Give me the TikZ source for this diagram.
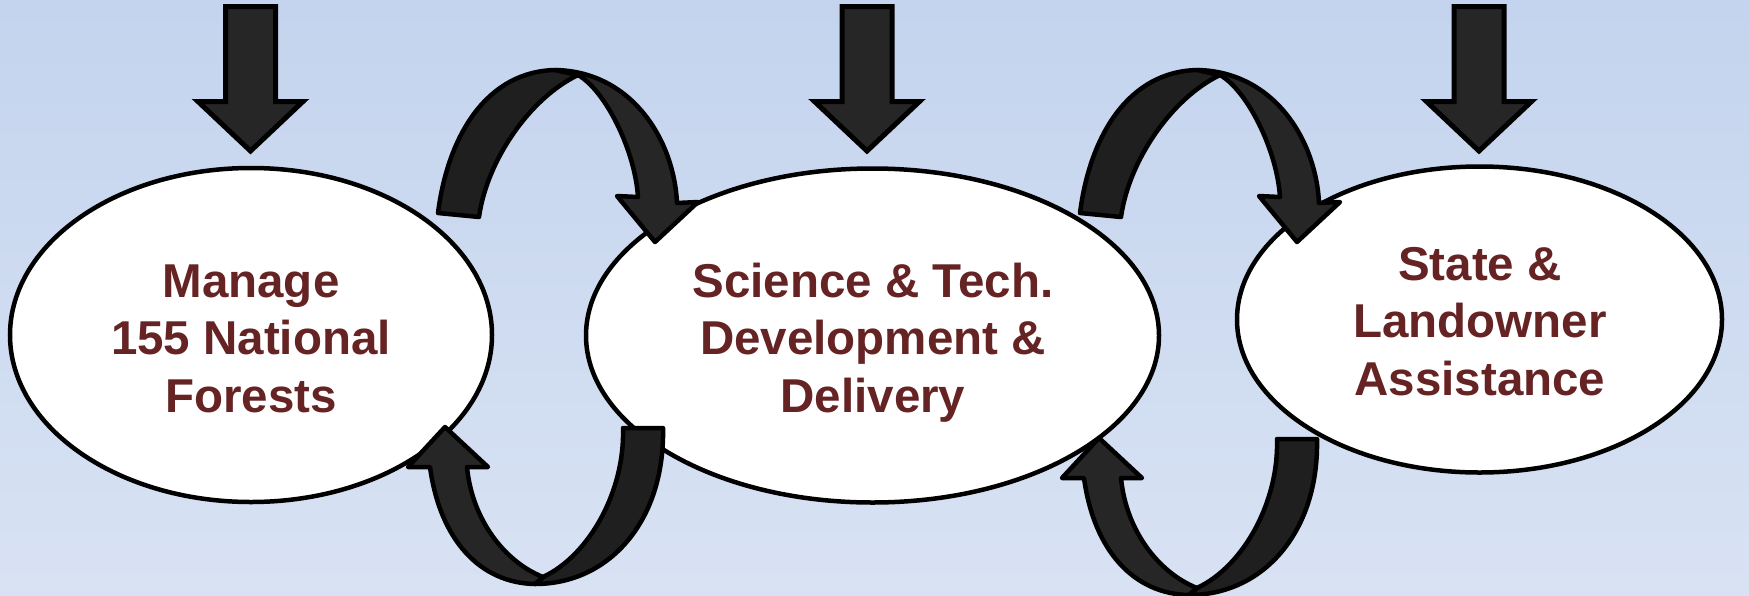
\documentclass[tikz,border=0pt]{standalone}
\usepackage{fontspec}
\setmainfont{Liberation Sans}
\usetikzlibrary{shapes.geometric}
\definecolor{bgtop}{RGB}{196,212,238}
\definecolor{bgbot}{RGB}{216,226,243}
\definecolor{txtred}{RGB}{102,35,35}
\definecolor{darkA}{RGB}{31,31,31}
\definecolor{darkB}{RGB}{38,38,38}
\begin{document}
\begin{tikzpicture}[x=1pt,y=-1pt,
  blob/.style={ellipse, draw=black, line width=4.5pt, fill=white, inner sep=0pt},
  lbl/.style={font=\bfseries\fontsize{47.5}{57.5}\selectfont, text=txtred, align=center, inner sep=0pt},
  downarrow/.style={draw=black, line width=5pt, fill=darkB, line join=miter},
  bandA/.style={draw=black, line width=4.5pt, fill=darkA, line join=round},
  bandB/.style={draw=black, line width=4.5pt, fill=darkB, line join=round}]
\useasboundingbox (0,0) rectangle (1749,595);
\shade[top color=bgtop, bottom color=bgbot] (0,0) rectangle (1749,595);

% ellipses
\node[blob, minimum width=482pt, minimum height=334pt] (e1) at (251,335) {};
\node[blob, minimum width=573pt, minimum height=334pt] (e2) at (872.5,335.5) {};
\node[blob, minimum width=485pt, minimum height=306pt] (e3) at (1479.5,319.5) {};

% labels
\node[lbl] (t1) at (251,342) {\rule{0pt}{36pt}Manage\\155 National\\Forests\rule[-11pt]{0pt}{11pt}};
\node[lbl] (t2) at (873,342) {\rule{0pt}{36pt}Science \& Tech.\\Development \&\\Delivery\rule[-11pt]{0pt}{11pt}};
\node[lbl] (t3) at (1480,325) {\rule{0pt}{36pt}State \&\\Landowner\\Assistance\rule[-11pt]{0pt}{11pt}};

% down arrows
\foreach \cx in {250.5,867,1479}{
  \draw[downarrow] (\cx-25,6.5) -- (\cx+25,6.5) -- (\cx+25,101.5) -- (\cx+52.5,101.5)
    -- (\cx,151) -- (\cx-52.5,101.5) -- (\cx-25,101.5) -- cycle;
}

% top curved arrows
\foreach \dx in {0,642}{
\begin{scope}[shift={(\dx,0)}]
  \draw[bandA] (438,213) .. controls (448,135) and (487,71) .. (556,70)
    -- (578,75) .. controls (530,98) and (487,160) .. (479,217) -- cycle;
  \draw[bandB] (556,70) .. controls (632,72) and (674,140) .. (677,203)
    -- (698,202) -- (655,242) -- (617,196) -- (638,197)
    .. controls (635,150) and (605,90) .. (578,75) -- cycle;
\end{scope}
}

% bottom curved arrows
\foreach \dx/\dy in {0/0,654/11}{
\begin{scope}[shift={(\dx,\dy)}]
  \draw[bandA] (623,428) -- (663,428) .. controls (665,520) and (610,584) .. (535,584)
    -- (543,577) .. controls (590,555) and (625,490) .. (623,428) -- cycle;
  \draw[bandB] (430,467) .. controls (440,540) and (480,583) .. (535,584)
    -- (543,577) .. controls (505,562) and (472,520) .. (467,467)
    -- (488,467) -- (445,427) -- (408,467) -- cycle;
\end{scope}
}
\end{tikzpicture}
\end{document}
